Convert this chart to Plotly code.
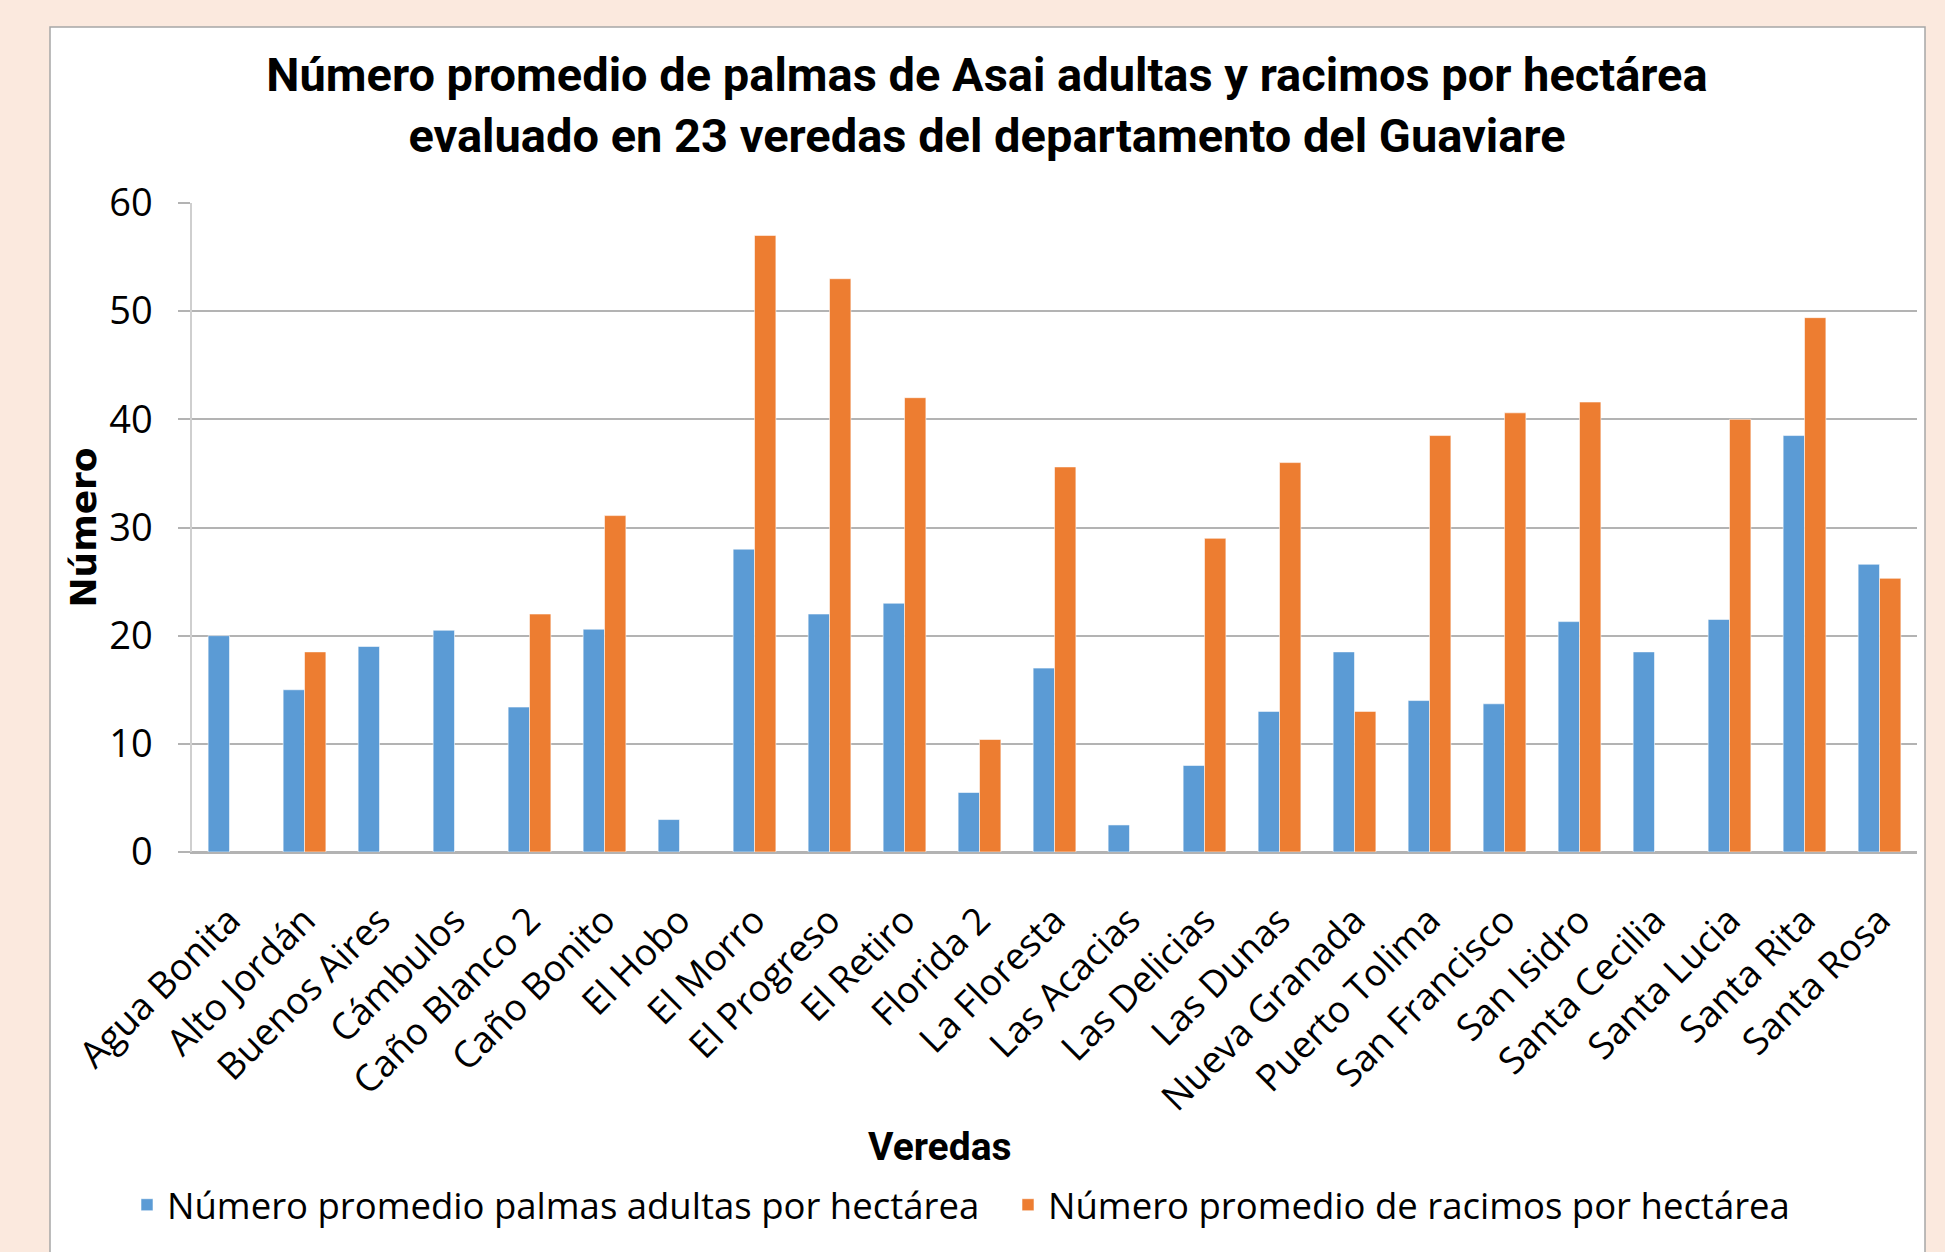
import plotly.graph_objects as go

veredas = ["Agua Bonita", "Alto Jordán", "Buenos Aires", "Cámbulos", "Caño Blanco 2",
           "Caño Bonito", "El Hobo", "El Morro", "El Progreso", "El Retiro", "Florida 2",
           "La Floresta", "Las Acacias", "Las Delicias", "Las Dunas", "Nueva Granada",
           "Puerto Tolima", "San Francisco", "San Isidro", "Santa Cecilia", "Santa Lucia",
           "Santa Rita", "Santa Rosa"]

palmas = [20, 15, 19, 20.5, 13.4, 20.6, 3, 28, 22, 23, 5.5,
          17, 2.5, 8, 13, 18.5, 14, 13.7, 21.3, 18.5, 21.5, 38.5, 26.6]

racimos = [None, 18.5, None, None, 22, 31.1, None, 57, 53, 42, 10.4,
           35.6, None, 29, 36, 13, 38.5, 40.6, 41.6, None, 40, 49.4, 25.3]

y_ticks = [0, 10, 20, 30, 40, 50, 60]

name_palmas = "Número promedio palmas adultas por hectárea"
name_racimos = "Número promedio de racimos por hectárea"
title_text = ("Número promedio de palmas de Asai adultas y racimos por hectárea<br>"
              "evaluado en 23 veredas del departamento del Guaviare")

W, H = 1945, 1252
L, R, T, B = 192, 1917, 203, 852
pw, ph = R - L, B - T
PEACH = "#FBE9DE"

def px_x(p):
    return (p - L) / pw

def px_y(p):
    return (B - p) / ph

fig = go.Figure()
fig.add_trace(go.Bar(x=veredas, y=palmas, name=name_palmas,
                     marker=dict(color="#5B9BD5", line=dict(color="rgba(255,255,255,0.7)", width=0.8))))
fig.add_trace(go.Bar(x=veredas, y=racimos, name=name_racimos,
                     marker=dict(color="#ED7D31", line=dict(color="rgba(255,255,255,0.7)", width=0.8))))

fig.add_shape(type="rect", xref="paper", yref="paper",
              x0=px_x(50), x1=px_x(1925), y0=px_y(1290), y1=px_y(27),
              fillcolor="white", line=dict(color="#A6A6A6", width=1.5), layer="below")

fig.add_annotation(text="<b>Veredas</b>", xref="paper", yref="paper",
                   x=px_x(940), y=px_y(1147), xanchor="center", yanchor="middle",
                   showarrow=False,
                   font=dict(family="Roboto, sans-serif", size=39, color="black"))

fig.update_layout(
    width=W, height=H,
    margin=dict(l=L, r=W - R, t=T, b=H - B, pad=0),
    paper_bgcolor=PEACH,
    plot_bgcolor="white",
    barmode="group",
    bargap=0.43,
    bargroupgap=0,
    title=dict(text="<b>" + title_text + "</b>", x=987 / W, xref="container", xanchor="center",
               y=1 - 90.5 / H, yref="container", yanchor="middle",
               font=dict(family="Roboto, sans-serif", size=47, color="black")),
    font=dict(family="Open Sans, sans-serif", color="black"),
    legend=dict(orientation="h", x=px_x(127), y=px_y(1205), xanchor="left", yanchor="middle",
                entrywidth=836, entrywidthmode="pixels",
                font=dict(family="Open Sans, sans-serif", size=36.5, color="black"),
                bgcolor="rgba(0,0,0,0)", traceorder="normal"),
    xaxis=dict(tickangle=-45, tickfont=dict(family="Open Sans, sans-serif", size=37, color="black"),
               showgrid=False, showline=True, linecolor="#B3B3B3", linewidth=1.5,
               ticks="", ticklabelstandoff=30, range=[-0.5, 22.5]),
    yaxis=dict(range=[0, 60], tickvals=y_ticks, ticktext=[str(v) for v in y_ticks],
               tickfont=dict(family="Open Sans, sans-serif", size=38, color="black"),
               showgrid=True, gridcolor="#B3B3B3", gridwidth=1.5,
               zeroline=True, zerolinecolor="#B3B3B3", zerolinewidth=1.5,
               showline=True, linecolor="#CFCFCF", linewidth=1.5,
               ticks="outside", ticklen=12, tickcolor="#B3B3B3", tickwidth=1.5,
               ticklabelstandoff=18,
               title=dict(text="<b>Número</b>", standoff=2,
                          font=dict(family="DejaVu Sans, sans-serif", size=36, color="black"))),
)

fig.write_html("out.html", config={"displayModeBar": False},
               post_script="document.body.style.margin='0';"
                           "document.body.style.background='" + PEACH + "';")
